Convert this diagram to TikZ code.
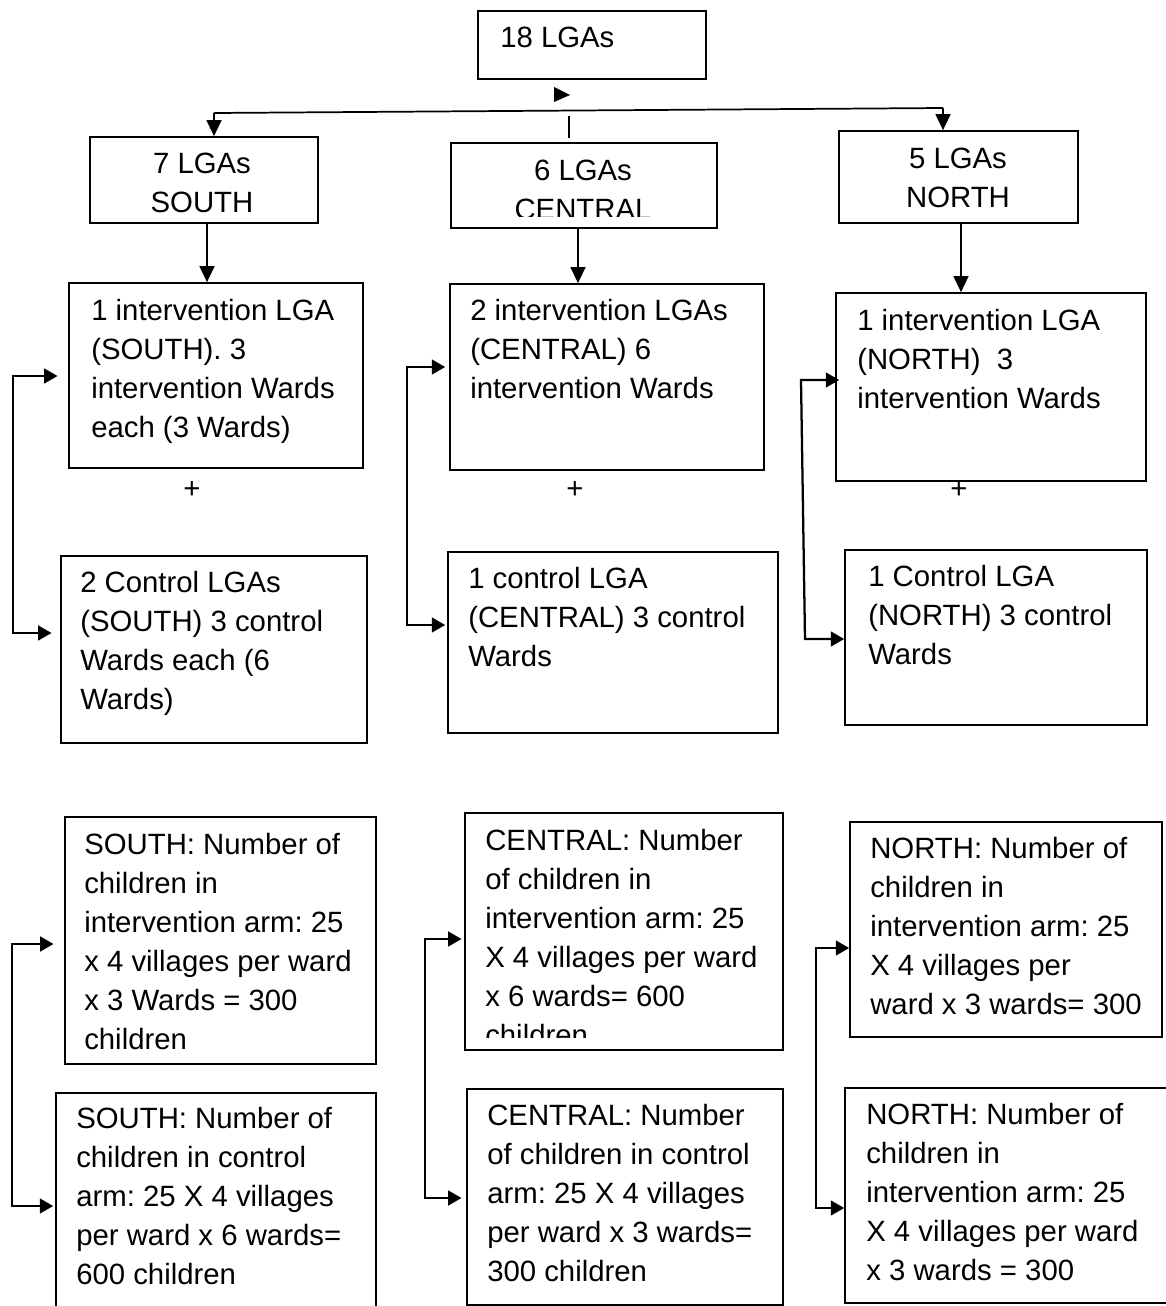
\documentclass[tikz,border=0pt]{standalone}
\usepackage{fontspec}
\setmainfont{Liberation Sans}
\usetikzlibrary{arrows.meta,fit,calc}
\frenchspacing
\begin{document}
\begin{tikzpicture}[x=0.75pt,y=-0.75pt,
  box/.style={draw=black,line width=1.2pt,inner sep=0pt},
  txt/.style={font=\fontsize{22}{29.25}\selectfont,align=left,inner sep=0pt,anchor=base west},
  ctxt/.style={font=\fontsize{22}{29.25}\selectfont,align=center,inner sep=0pt,anchor=base},
  conn/.style={line width=1.7pt,-{Triangle[length=12pt,width=11pt]}},
  bconn/.style={line width=1.7pt,{Triangle[length=10pt,width=11pt]}-{Triangle[length=10pt,width=11pt]}},
  plain/.style={line width=1.3pt},
]
\useasboundingbox (0,0) rectangle (1166,1306);
\clip (0,0) rectangle (1166,1306);
% boxes
\node[box,fit={(478,11) (706,79)}] (top) {};
\node[box,fit={(90,137) (318,223)}] (s1) {};
\node[box,fit={(451,143) (717,228)}] (c1) {};
\node[box,fit={(839,131) (1078,223)}] (n1) {};
\node[box,fit={(69,283) (363,468)}] (s2) {};
\node[box,fit={(450,284) (764,470)}] (c2) {};
\node[box,fit={(836,293) (1146,481)}] (n2) {};
\node[box,fit={(61,556) (367,743)}] (s3) {};
\node[box,fit={(448,552) (778,733)}] (c3) {};
\node[box,fit={(845,550) (1147,725)}] (n3) {};
\node[box,fit={(65,817) (376,1064)}] (s4) {};
\node[box,fit={(465,813) (783,1050)}] (c4) {};
\node[box,fit={(850,822) (1162,1037)}] (n4) {};
\node[box,fit={(56,1093) (376,1330)}] (s5) {};
\node[box,fit={(467,1089) (783,1305)}] (c5) {};
\node[box,fit={(845,1088) (1180,1303)}] (n5) {};
% texts (anchor = baseline of last line)
\node[txt] (t0) at (500,48) {18 LGAs};
\node[ctxt] (t1) at (202,212) {7 LGAs\\SOUTH};
\begin{scope}
\clip (451,143) rectangle (717,216);
\node[ctxt] (t2) at (583,219) {6 LGAs\\CENTRAL};
\end{scope}
\node[ctxt] (t3) at (958,207) {5 LGAs\\NORTH};
\node[txt] (t4) at (91,437) {1 intervention LGA\\(SOUTH). 3\\intervention Wards\\each (3 Wards)};
\node[txt] (t5) at (470,398) {2 intervention LGAs\\(CENTRAL) 6\\intervention Wards};
\node[txt] (t6) at (857,408) {1 intervention LGA\\(NORTH)~~3\\intervention Wards};
\node[txt] (t7) at (80,709) {2 Control LGAs\\(SOUTH) 3 control\\Wards each (6\\Wards)};
\node[txt] (t8) at (468,666) {1 control LGA\\(CENTRAL) 3 control\\Wards};
\node[txt] (t9) at (868,664) {1 Control LGA\\(NORTH) 3 control\\Wards};
\node[txt] (t10) at (84,1049) {SOUTH: Number of\\children in\\intervention arm: 25\\x 4 villages per ward\\x 3 Wards = 300\\children};
\begin{scope}
\clip (465,813) rectangle (783,1037);
\node[txt] (t11) at (485,1045) {CENTRAL: Number\\of children in\\intervention arm: 25\\X 4 villages per ward\\x 6 wards= 600\\children};
\end{scope}
\node[txt] (t12) at (870,1014) {NORTH: Number of\\children in\\intervention arm: 25\\X 4 villages per\\ward x 3 wards= 300};
\node[txt] (t13) at (76,1284) {SOUTH: Number of\\children in control\\arm: 25 X 4 villages\\per ward x 6 wards=\\600 children};
\node[txt] (t14) at (487,1281) {CENTRAL: Number\\of children in control\\arm: 25 X 4 villages\\per ward x 3 wards=\\300 children};
\node[txt] (t15) at (866,1280) {NORTH: Number of\\children in\\intervention arm: 25\\X 4 villages per ward\\x 3 wards = 300};
% plus signs
\node[ctxt,anchor=center] (p1) at (192,490) {+};
\node[ctxt,anchor=center] (p2) at (575,490) {+};
\node[ctxt,anchor=center] (p3) at (959,490) {+};
% top connector
\fill (554,87) -- (570,95) -- (554,102) -- cycle;
\coordinate (hl) at (214,113);
\coordinate (hr) at (943,108);
\draw[plain] (569,116) -- (569,138);
\draw[conn] (hl) -- (hl |- s1.north);
\draw[plain] (hl) -- (hr);
\draw[conn] (hr) -- (hr |- n1.north);
% down arrows
\coordinate (d1) at (207,0);
\coordinate (d2) at (578,0);
\coordinate (d3) at (961,0);
\draw[conn] (d1 |- s1.south) -- (d1 |- s2.north);
\draw[conn] (d2 |- c1.south) -- (d2 |- c2.north);
\draw[conn] (d3 |- n1.south) -- (d3 |- n2.north);
% brackets row 2
\coordinate (bs1) at (13,376);
\coordinate (bs2) at (13,633);
\draw[bconn,shorten <=8pt,shorten >=6.5pt] (s2.west |- bs1) -- (bs1) -- (bs2) -- (s3.west |- bs2);
\coordinate (bc1) at (407,367);
\coordinate (bc2) at (407,625);
\draw[bconn,shorten <=3pt,shorten >=1.5pt] (c2.west |- bc1) -- (bc1) -- (bc2) -- (c3.west |- bc2);
\coordinate (bn1) at (801,380);
\coordinate (bn2) at (805,639);
\draw[bconn,shorten <=-3pt] (n2.west |- bn1) -- (bn1) -- (bn2) -- (n3.west |- bn2);
% brackets row 3
\coordinate (cs1) at (12,944);
\coordinate (cs2) at (12,1206);
\draw[bconn,shorten <=8pt,shorten >=1.5pt] (s4.west |- cs1) -- (cs1) -- (cs2) -- (s5.west |- cs2);
\coordinate (cc1) at (425,939);
\coordinate (cc2) at (425,1198);
\draw[bconn,shorten <=2pt,shorten >=3.5pt] (c4.west |- cc1) -- (cc1) -- (cc2) -- (c5.west |- cc2);
\coordinate (cn1) at (816,948);
\coordinate (cn2) at (816,1208);
\draw[bconn] (n4.west |- cn1) -- (cn1) -- (cn2) -- (n5.west |- cn2);
\end{tikzpicture}
\end{document}
